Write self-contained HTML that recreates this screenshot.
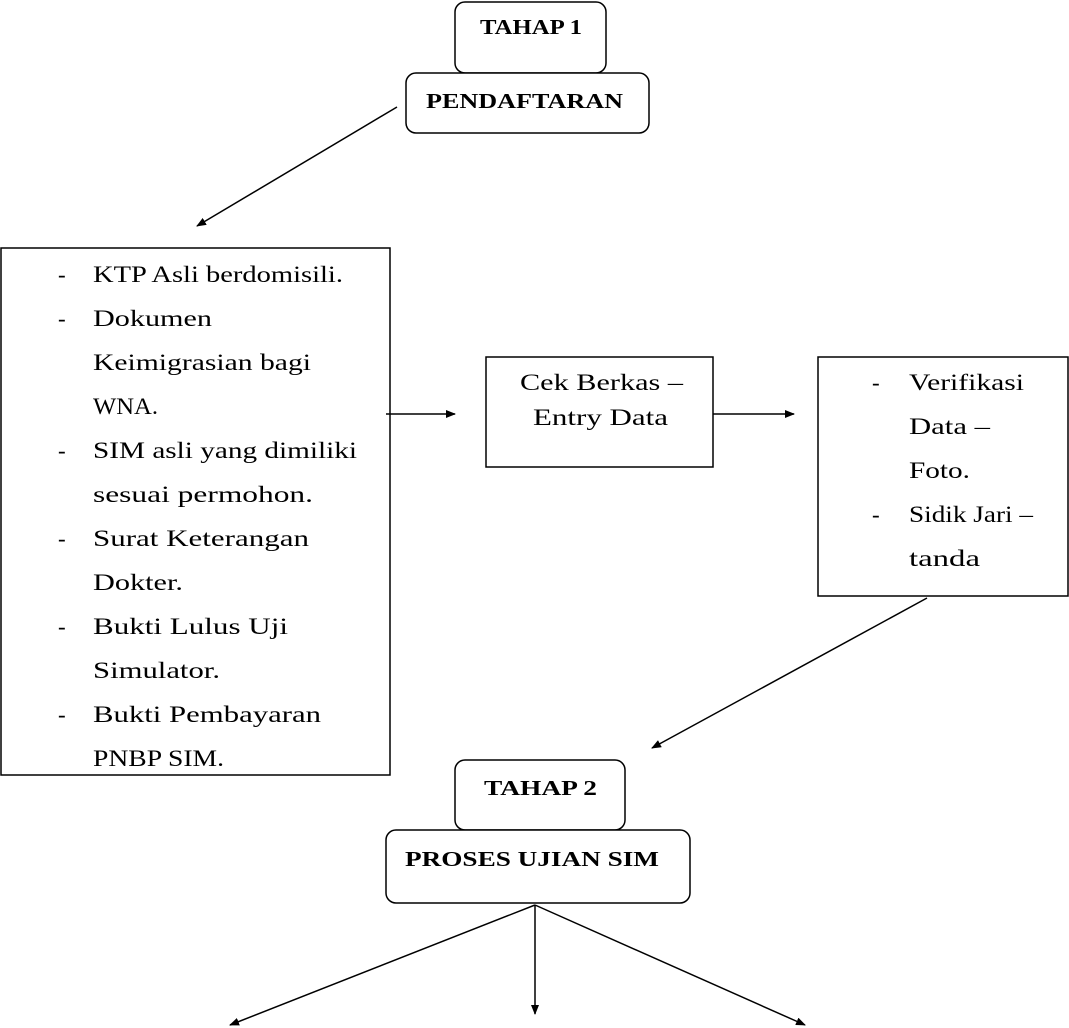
<!DOCTYPE html>
<html><head><style>body{margin:0;background:#fff}svg{display:block}</style></head><body>
<svg width="1069" height="1028" xmlns="http://www.w3.org/2000/svg" font-family="Liberation Serif, serif" fill="#000">
<defs><marker id="a" markerWidth="10" markerHeight="8" refX="9" refY="4" orient="auto" markerUnits="userSpaceOnUse"><path d="M0,0L10,4L0,8z"/></marker></defs>
<g fill="none" stroke="#000" stroke-width="1.5">
<rect x="455" y="2" width="151" height="71" rx="10"/>
<rect x="406" y="73" width="243" height="60" rx="10" fill="#fff"/>
<rect x="1" y="248" width="389" height="527"/>
<rect x="486" y="357" width="227" height="110"/>
<rect x="818" y="357" width="250" height="239"/>
<rect x="455" y="760" width="170" height="70" rx="10"/>
<rect x="386" y="830" width="304" height="73" rx="10" fill="#fff"/>
<g marker-end="url(#a)">
<line x1="397" y1="107" x2="197" y2="226"/>
<line x1="386" y1="414" x2="455" y2="414"/>
<line x1="713" y1="414" x2="794" y2="414"/>
<line x1="927" y1="598" x2="652" y2="748"/>
<line x1="535" y1="905" x2="230" y2="1025"/>
<line x1="535" y1="905" x2="535" y2="1014"/>
<line x1="535" y1="905" x2="805" y2="1025"/>
</g></g>
<g font-weight="bold" font-size="21" lengthAdjust="spacingAndGlyphs">
<text x="480" y="34" textLength="102" lengthAdjust="spacingAndGlyphs">TAHAP 1</text>
<text x="426" y="108" textLength="197" lengthAdjust="spacingAndGlyphs">PENDAFTARAN</text>
<text x="484" y="795" textLength="113" lengthAdjust="spacingAndGlyphs">TAHAP 2</text>
<text x="405" y="866" textLength="254" lengthAdjust="spacingAndGlyphs">PROSES UJIAN SIM</text>
</g>
<g font-size="23">
<text x="58" y="282">-</text><text x="93" y="282" textLength="250" lengthAdjust="spacingAndGlyphs">KTP Asli berdomisili.</text>
<text x="58" y="326">-</text><text x="93" y="326" textLength="119" lengthAdjust="spacingAndGlyphs">Dokumen</text>
<text x="93" y="370" textLength="218" lengthAdjust="spacingAndGlyphs">Keimigrasian bagi</text>
<text x="93" y="414" textLength="65" lengthAdjust="spacingAndGlyphs">WNA.</text>
<text x="58" y="458">-</text><text x="93" y="458" textLength="264" lengthAdjust="spacingAndGlyphs">SIM asli yang dimiliki</text>
<text x="93" y="502" textLength="220" lengthAdjust="spacingAndGlyphs">sesuai permohon.</text>
<text x="58" y="546">-</text><text x="93" y="546" textLength="216" lengthAdjust="spacingAndGlyphs">Surat Keterangan</text>
<text x="93" y="590" textLength="90" lengthAdjust="spacingAndGlyphs">Dokter.</text>
<text x="58" y="634">-</text><text x="93" y="634" textLength="195" lengthAdjust="spacingAndGlyphs">Bukti  Lulus Uji</text>
<text x="93" y="678" textLength="127" lengthAdjust="spacingAndGlyphs">Simulator.</text>
<text x="58" y="722">-</text><text x="93" y="722" textLength="228" lengthAdjust="spacingAndGlyphs">Bukti Pembayaran</text>
<text x="93" y="766" textLength="131" lengthAdjust="spacingAndGlyphs">PNBP SIM.</text>
<text x="520" y="390" textLength="163" lengthAdjust="spacingAndGlyphs">Cek Berkas –</text>
<text x="533" y="425" textLength="135" lengthAdjust="spacingAndGlyphs">Entry Data</text>
<text x="872" y="390">-</text><text x="909" y="390" textLength="115" lengthAdjust="spacingAndGlyphs">Verifikasi</text>
<text x="909" y="434" textLength="81" lengthAdjust="spacingAndGlyphs">Data –</text>
<text x="909" y="478" textLength="61" lengthAdjust="spacingAndGlyphs">Foto.</text>
<text x="872" y="522">-</text><text x="909" y="522" textLength="124" lengthAdjust="spacingAndGlyphs">Sidik Jari –</text>
<text x="909" y="566" textLength="71" lengthAdjust="spacingAndGlyphs">tanda</text>
</g>
</svg>
</body></html>
